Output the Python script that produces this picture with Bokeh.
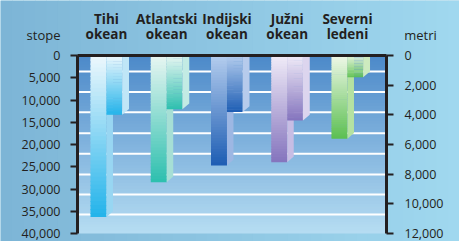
import numpy as np
from bokeh.plotting import figure
from bokeh.models import Range1d, LinearAxis, FixedTicker, NumeralTickFormatter, Label
from bokeh.core.properties import value
from bokeh.embed import file_html
from bokeh.resources import INLINE

# ---------------- data ----------------
oceans = ["Tihi\nokean", "Atlantski\nokean", "Indijski\nokean", "Južni\nokean", "Severni\nledeni"]
max_depth_ft = [36300, 28500, 24700, 24000, 18700]
avg_depth_ft = [13300, 12100, 12700, 14600, 4900]
left_ticks_ft = [0, 5000, 10000, 15000, 20000, 25000, 30000, 35000, 40000]
right_ticks_m = [0, 2000, 4000, 6000, 8000, 10000, 12000]
grid_ft = [3600, 8200, 12750, 17450, 22100, 26750, 31250, 35750]
ft_max = 40000
m_max = 12000

# colours per ocean
front_top = ["#eef8fd", "#e8f6f2", "#b4cdee", "#f0ebf8", "#eff8e8"]
front_bot = ["#22b3ea", "#2cbfae", "#1d5db3", "#8474bd", "#5bbf50"]
side_deep = ["#98d6f2", "#a6dfd5", "#9db7e3", "#c7bde4", "#b5e2a1"]
side_shal = ["#bfe6f7", "#c2ebe4", "#b7cbec", "#dcd5ee", "#cdebbf"]

TEXT = "#231f20"
FONT = "Open Sans"
SLANT = 1300  # 3-D bevel of side faces (style)

def hex2rgb(h):
    h = h.lstrip("#")
    return np.array([int(h[i:i + 2], 16) for i in (0, 2, 4)], dtype=float)

def rgb2hex(c):
    return "#%02x%02x%02x" % tuple(int(round(v)) for v in c)

def lerp(a, b, t):
    return rgb2hex(hex2rgb(a) * (1 - t) + hex2rgb(b) * t)

# chart box in data units; canvas extends around it
x0, x1 = -0.481, 4.648
PXX = 60.25                 # px per category unit
PXY = ft_max / 178.0        # ft per px
W, H = 459, 241
LEFT_PX, TOP_PX = 77, 55
cx0 = x0 - LEFT_PX / PXX
cx1 = cx0 + W / PXX
cy_top = -TOP_PX * PXY
cy_bot = cy_top + H * PXY
m_per_ft = m_max / ft_max

p = figure(width=W, height=H, min_border=0,
           x_range=Range1d(cx0, cx1), y_range=Range1d(cy_bot, cy_top),
           output_backend="svg", toolbar_location=None,
           x_axis_location=None, y_axis_location=None)
p.outline_line_color = None
p.border_fill_color = "#90c9e3"
p.background_fill_color = "#90c9e3"
p.xgrid.visible = False
p.ygrid.visible = False

# outer soft horizontal gradient
M = 40
xe = np.linspace(cx0, cx1, M + 1)
p.quad(left=xe[:-1], right=xe[1:] + 0.01, top=cy_top, bottom=cy_bot,
       color=[lerp("#7db5d6", "#a0d8ef", (i + 0.5) / M) for i in range(M)], line_color=None)

# plot-area gradient background
N = 60
edges = np.linspace(0, ft_max, N + 1)
p.quad(left=x0, right=x1, top=edges[:-1], bottom=np.minimum(edges[1:] + 300, ft_max),
       color=[lerp("#4c89c9", "#b6ddf2", (i + 0.5) / N) for i in range(N)], line_color=None)

# white grid lines
p.segment(x0=x0, x1=x1, y0=grid_ft, y1=grid_ft, line_color="white", line_width=2)

K = 40
def grad_bar(left, right, depth, ctop, cbot):
    e = np.linspace(0, depth, K + 1)
    cols = [lerp(ctop, cbot, (i + 0.5) / K) for i in range(K)]
    bot = np.minimum(e[1:] + depth / K * 0.3, depth)
    p.quad(left=left, right=right, top=e[:-1], bottom=bot, color=cols, line_color=None)

for i in range(len(oceans)):
    c = i
    d = max_depth_ft[i]
    a = avg_depth_ft[i]
    grad_bar(c - 0.265, c + 0.0, d, front_top[i], front_bot[i])
    p.patch([c + 0.0, c + 0.108, c + 0.108, c + 0.0], [0, 0, d - SLANT, d],
            color=side_deep[i], line_color=None)
    grad_bar(c + 0.0, c + 0.26, a, front_top[i], front_bot[i])
    p.patch([c + 0.26, c + 0.374, c + 0.374, c + 0.26], [0, 0, a - SLANT, a],
            color=side_shal[i], line_color=None)

def style_axis(ax):
    ax.axis_line_color = TEXT
    ax.axis_line_width = 3
    ax.major_tick_line_color = TEXT
    ax.major_tick_line_width = 2
    ax.major_tick_in = 0
    ax.major_tick_out = 7
    ax.minor_tick_line_color = None
    ax.major_label_text_font = FONT
    ax.major_label_text_font_size = "12.5px"
    ax.major_label_text_color = TEXT
    ax.major_label_standoff = 10

left = LinearAxis(ticker=FixedTicker(ticks=left_ticks_ft), formatter=NumeralTickFormatter(format="0,0"),
                  fixed_location=x0, bounds=(0, ft_max))
style_axis(left)
p.add_layout(left, "left")

p.extra_y_ranges = {"m": Range1d(cy_bot * m_per_ft, cy_top * m_per_ft)}
right = LinearAxis(y_range_name="m", ticker=FixedTicker(ticks=right_ticks_m),
                   formatter=NumeralTickFormatter(format="0,0"),
                   fixed_location=x1, bounds=(0, m_max))
style_axis(right)
right.major_label_standoff = 11
p.add_layout(right, "right")

top = LinearAxis(ticker=FixedTicker(ticks=[]), fixed_location=0, bounds=(x0, x1))
style_axis(top)
top.major_tick_line_color = None
p.add_layout(top, "above")

# category names (two lines)
line1 = [n.split("\n")[0] for n in oceans]
line2 = [n.split("\n")[1] for n in oceans]
xs = list(range(len(oceans)))
for txt, yy in ((line1, -37 * PXY), (line2, -22 * PXY)):
    p.text(x=xs, y=[yy] * len(xs), text=txt, text_font=value(FONT), text_font_style="bold",
           text_font_size="13.5px", text_align="center", text_baseline="middle", text_color=TEXT)

p.add_layout(Label(x=x0 - 34 / PXX, y=-21 * PXY, text="stope", text_align="center", text_baseline="middle",
                   text_font=FONT, text_font_size="13px", text_color=TEXT))
p.add_layout(Label(x=x1 + 34 / PXX, y=-21 * PXY, text="metri", text_align="center", text_baseline="middle",
                   text_font=FONT, text_font_size="13px", text_color=TEXT))

open("out.html", "w").write(file_html(p, INLINE))
